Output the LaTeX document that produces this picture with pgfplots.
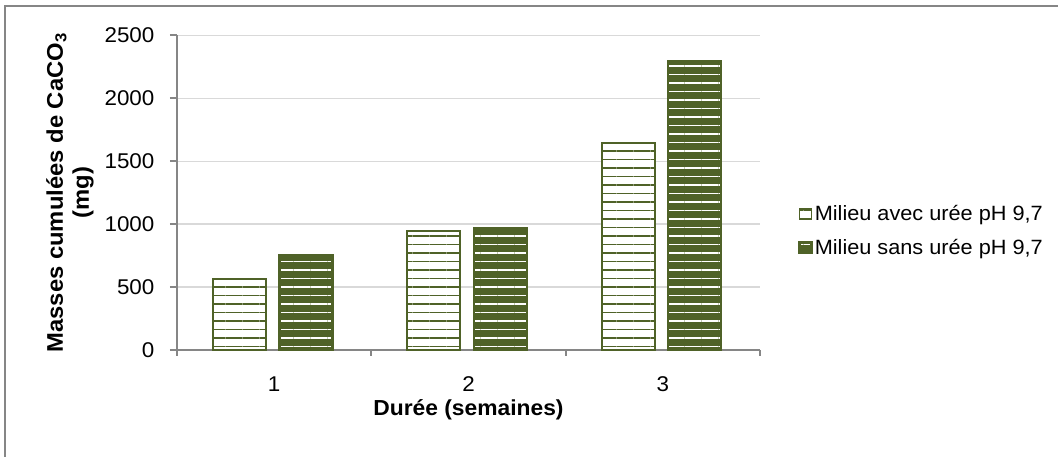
\documentclass[border=0pt]{standalone}
\usepackage{fontspec}
\setmainfont{Liberation Sans}[FakeStretch=1.05]
\usepackage{pgfplots}
\pgfplotsset{compat=1.18}
\usetikzlibrary{patterns.meta}
\definecolor{barg}{HTML}{4F6228}
\definecolor{axgray}{HTML}{868686}
\definecolor{gridgray}{HTML}{D9D9D9}
\tikzset{
  lightbar/.style={draw=barg, line width=1.4pt, preaction={fill=white},
    preaction={pattern={Lines[angle=0,distance=6.375pt,line width=1.25pt]}, pattern color=barg}},
  darkbar/.style={draw=barg, line width=1.9pt, preaction={fill=barg},
    preaction={pattern={Lines[angle=0,distance=6.375pt,line width=0.8pt]}, pattern color=white}},
}
\begin{document}
\begin{tikzpicture}
\begin{axis}[
  scale only axis, width=437.25pt, height=235.9pt,
  xmin=0.5, xmax=3.5, ymin=0, ymax=2500,
  axis lines*=left,
  axis line style={draw=axgray, line width=1.5pt},
  ytick={0,500,...,2500},
  ymajorgrids, grid style={draw=gridgray, line width=1.1pt},
  xtick={1,2,3}, minor xtick={0.5,1.5,2.5,3.5},
  tick align=outside,
  major tick length=5.25pt, minor tick length=4.5pt,
  major x tick style={draw=none},
  minor x tick style={draw=axgray, line width=1.5pt},
  ytick style={draw=axgray, line width=1.5pt},
  /pgf/number format/assume math mode=true,
  /pgf/number format/1000 sep={},
  tick label style={font=\fontsize{16}{19}\selectfont},
  yticklabel style={anchor=east, inner sep=0pt, xshift=-11.5pt},
  xticklabel style={anchor=center, inner sep=0pt, yshift=-20.25pt},
  xlabel={Durée (semaines)},
  xlabel style={font=\bfseries\fontsize{16.3}{19}\selectfont, at={(axis description cs:0.5,0)}, anchor=center, yshift=-45pt},
  ylabel={Masses cumulées de CaCO\textsubscript{3}\\(mg)},
  ylabel style={font=\bfseries\fontsize{17}{19.5}\selectfont, align=center, at={(axis description cs:0,0.5)}, anchor=center, yshift=80.25pt},
  bar width=0.2727,
  legend image code/.code={\draw[#1] (0pt,-3.75pt) rectangle (9pt,3.75pt);},
  legend cell align=left,
  legend style={at={(1.0652,0.379)}, anchor=west, draw=none, fill=none, inner sep=0pt,
    row sep=12pt, column sep=1.5pt, nodes={inner sep=0pt},
    font=\fontsize{15.5}{18}\selectfont},
]
\addplot[ybar, bar shift=-0.1786, lightbar] coordinates {(1,567) (2,943) (3,1642)};
\addlegendentry{Milieu avec urée pH 9,7}
\addplot[ybar, bar shift=0.1636, darkbar] coordinates {(1,752) (2,967) (3,2292)};
\addlegendentry{Milieu sans urée pH 9,7}
\end{axis}
\draw[axgray, line width=1.5pt] (-129pt,-81pt) -- (-129pt,258pt) -- (662pt,258pt);
\pgfresetboundingbox
\path[use as bounding box] (-132.75pt,-80.25pt) rectangle (660.75pt,262.5pt);
\end{tikzpicture}
\end{document}
